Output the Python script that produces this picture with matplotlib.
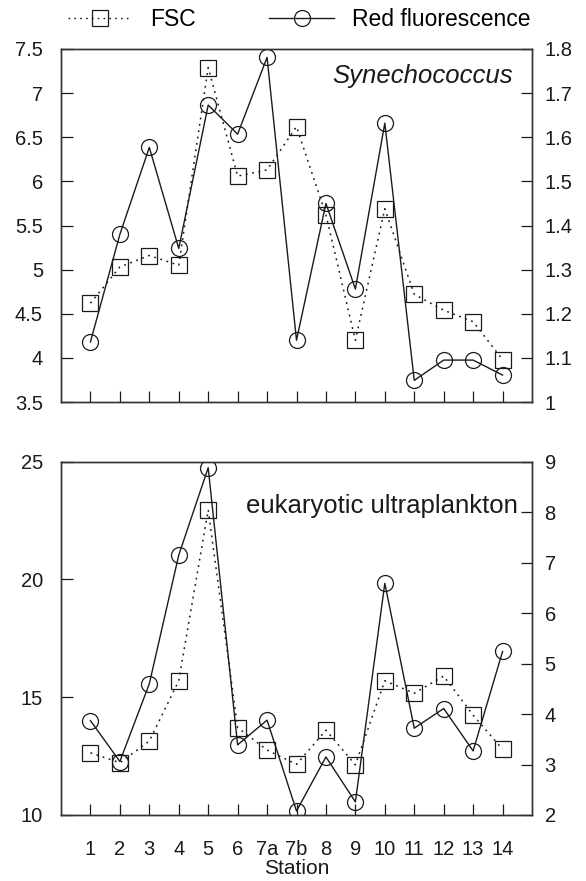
import matplotlib
matplotlib.use("Agg")
import matplotlib.pyplot as plt
from matplotlib.lines import Line2D

plt.rcParams['font.family'] = ['Liberation Sans', 'DejaVu Sans']

stations = ['1', '2', '3', '4', '5', '6', '7a', '7b', '8', '9', '10', '11', '12', '13', '14']

syn_fsc = [4.62, 5.03, 5.16, 5.05, 7.29, 6.06, 6.13, 6.62, 5.62, 4.20, 5.69, 4.72, 4.54, 4.41, 3.98]
syn_red = [1.136, 1.38, 1.577, 1.348, 1.673, 1.607, 1.781, 1.14, 1.45, 1.256, 1.632, 1.049, 1.095, 1.095, 1.061]

euk_fsc = [12.64, 12.22, 13.14, 15.70, 22.95, 13.71, 12.76, 12.15, 13.60, 12.13, 15.70, 15.17, 15.90, 14.24, 12.79]
euk_red = [3.87, 3.06, 4.60, 7.15, 8.88, 3.39, 3.88, 2.08, 3.15, 2.26, 6.59, 3.72, 4.11, 3.27, 5.24]

syn_left_ticks = [3.5, 4, 4.5, 5, 5.5, 6, 6.5, 7, 7.5]
syn_left_labels = ['3.5', '4', '4.5', '5', '5.5', '6', '6.5', '7', '7.5']
syn_right_ticks = [1.0, 1.1, 1.2, 1.3, 1.4, 1.5, 1.6, 1.7, 1.8]
syn_right_labels = ['1', '1.1', '1.2', '1.3', '1.4', '1.5', '1.6', '1.7', '1.8']
euk_left_ticks = [10, 15, 20, 25]
euk_right_ticks = [2, 3, 4, 5, 6, 7, 8, 9]

FS = 14.5
FS_LEG = 16.5
FS_ANN = 18.5
INK = '#1a1a1a'
SPINE = '#333333'
MS = 11.5
dotted = (0, (1.2, 3.0))

fig = plt.figure(figsize=(5.86, 8.81), dpi=100)
W, H = 586, 881
left, right = 61 / W, 532 / W
ax1 = fig.add_axes([left, 1 - 402 / H, right - left, (402 - 49) / H])
ax2 = fig.add_axes([left, 1 - 815 / H, right - left, (815 - 461.7) / H])

x = list(range(1, len(stations) + 1))


def style(ax, axr, lt, ll, rt, rl, ylim_l, ylim_r, show_x):
    ax.set_xlim(0, 16)
    ax.set_ylim(*ylim_l)
    axr.set_ylim(*ylim_r)
    ax.set_xticks(x)
    if show_x:
        ax.set_xticklabels(stations, fontsize=FS, color=INK)
    else:
        ax.set_xticklabels([])
    ax.set_yticks(lt)
    ax.set_yticklabels(ll, fontsize=FS, color=INK)
    axr.set_yticks(rt)
    axr.set_yticklabels(rl, fontsize=FS, color=INK)
    ax.tick_params(axis='x', direction='in', length=8, width=0.9, color=INK, pad=18, top=False)
    ax.tick_params(axis='y', direction='in', length=8.5, width=0.9, color=INK, pad=13)
    axr.tick_params(axis='y', direction='in', length=8, width=0.9, color=INK, pad=9)
    for a in (ax, axr):
        for s in a.spines.values():
            s.set_color(SPINE)
            s.set_linewidth(1.0)
    ax.patch.set_visible(False)


# Top panel
ax1r = ax1.twinx()
ax1.plot(x, syn_fsc, linestyle=dotted, color=INK, lw=1.1, marker='s', ms=MS - 0.5,
         mfc='none', mec=INK, mew=0.9)
ax1r.plot(x, syn_red, linestyle='-', color=INK, lw=1.0, marker='o', ms=MS,
          mfc='none', mec=INK, mew=0.9)
style(ax1, ax1r, syn_left_ticks, syn_left_labels, syn_right_ticks, syn_right_labels,
      (3.5, 7.5), (1.0, 1.8), False)
ax1.text((513 - 61) / 471, (402 - 64) / 353, 'Synechococcus', transform=ax1.transAxes,
         ha='right', va='top', fontsize=FS_ANN, style='italic', color=INK)

# Bottom panel
ax2r = ax2.twinx()
ax2.plot(x, euk_fsc, linestyle=dotted, color=INK, lw=1.1, marker='s', ms=MS - 0.5,
         mfc='none', mec=INK, mew=0.9)
ax2r.plot(x, euk_red, linestyle='-', color=INK, lw=1.0, marker='o', ms=MS,
          mfc='none', mec=INK, mew=0.9)
style(ax2, ax2r, euk_left_ticks, [str(v) for v in euk_left_ticks],
      euk_right_ticks, [str(v) for v in euk_right_ticks],
      (10, 25), (2, 9), True)
ax2.text((518 - 61) / 471, (815 - 494) / 353.3, 'eukaryotic ultraplankton',
         transform=ax2.transAxes, ha='right', va='top', fontsize=FS_ANN, color=INK)
ax2.set_xlabel('Station', fontsize=15, color=INK, labelpad=0)

# Legend
h1 = Line2D([], [], linestyle=dotted, color=INK, lw=1.0, marker='s', ms=MS - 0.5,
            mfc='none', mec=INK, mew=0.9)
h2 = Line2D([], [], linestyle='-', color=INK, lw=1.0, marker='o', ms=MS,
            mfc='none', mec=INK, mew=0.9)
fig.legend([h1, h2], ['FSC', 'Red fluorescence'], loc='center left',
           bbox_to_anchor=(68 / W, 1 - 20 / H), ncol=2, frameon=False,
           fontsize=FS_LEG, handlelength=2.8, handletextpad=0.8, columnspacing=3.2,
           borderpad=0, borderaxespad=0, numpoints=1)

fig.savefig('out.png', dpi=100)
